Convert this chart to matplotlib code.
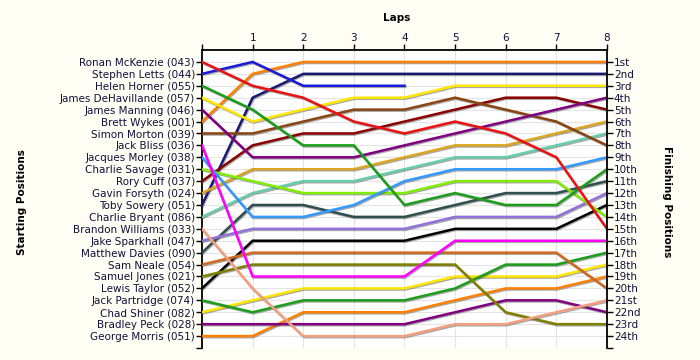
import numpy as np
import matplotlib
matplotlib.use("Agg")
from matplotlib import pyplot as plt
import matplotlib.patheffects as pe

# drivers in starting order
drivers = ["Ronan McKenzie (043)", "Stephen Letts (044)", "Helen Horner (055)",
           "James DeHavillande (057)", "James Manning (046)", "Brett Wykes (001)",
           "Simon Morton (039)", "Jack Bliss (036)", "Jacques Morley (038)",
           "Charlie Savage (031)", "Rory Cuff (037)", "Gavin Forsyth (024)",
           "Toby Sowery (051)", "Charlie Bryant (086)", "Brandon Williams (033)",
           "Jake Sparkhall (047)", "Matthew Davies (090)", "Sam Neale (054)",
           "Samuel Jones (021)", "Lewis Taylor (052)", "Jack Partridge (074)",
           "Chad Shiner (082)", "Bradley Peck (028)", "George Morris (051)"]

colors = ["#ee1111", "#1a1ad8", "#1a9e1a", "#ffe600", "#800080", "#ff8000",
          "#8b4513", "#ff00ff", "#3399ff", "#80ee00", "#8b0000", "#daa520",
          "#191970", "#66cdaa", "#f4a080", "#9370db", "#2f4f4f", "#d2691e",
          "#808000", "#000000", "#1a9e1a", "#ffe600", "#800080", "#ff8000"]

laps = [0, 1, 2, 3, 4, 5, 6, 7, 8]

# position after each lap (lap 0 = grid), None = retired
positions = [
    [1, 3, 4, 6, 7, 6, 7, 9, 15],
    [2, 1, 3, 3, 3, None, None, None, None],
    [3, 5, 8, 8, 13, 12, 13, 13, 10],
    [4, 6, 5, 4, 4, 3, 3, 3, 3],
    [5, 9, 9, 9, 8, 7, 6, 5, 4],
    [6, 2, 1, 1, 1, 1, 1, 1, 1],
    [7, 7, 6, 5, 5, 4, 5, 6, 8],
    [8, 19, 19, 19, 19, 16, 16, 16, 16],
    [9, 14, 14, 13, 11, 10, 10, 10, 9],
    [10, 11, 12, 12, 12, 11, 11, 11, 14],
    [11, 8, 7, 7, 6, 5, 4, 4, 5],
    [12, 10, 10, 10, 9, 8, 8, 7, 6],
    [13, 4, 2, 2, 2, 2, 2, 2, 2],
    [14, 12, 11, 11, 10, 9, 9, 8, 7],
    [15, 20, 24, 24, 24, 23, 23, 22, 21],
    [16, 15, 15, 15, 15, 14, 14, 14, 12],
    [17, 13, 13, 14, 14, 13, 12, 12, 11],
    [18, 17, 17, 17, 17, 17, 17, 17, 20],
    [19, 18, 18, 18, 18, 18, 22, 23, 23],
    [20, 16, 16, 16, 16, 15, 15, 15, 13],
    [21, 22, 21, 21, 21, 20, 18, 18, 17],
    [22, 21, 20, 20, 20, 19, 19, 19, 18],
    [23, 23, 23, 23, 23, 22, 21, 21, 22],
    [24, 24, 22, 22, 22, 21, 20, 20, 19],
]

finish_labels = ["1st", "2nd", "3rd", "4th", "5th", "6th", "7th", "8th", "9th",
                 "10th", "11th", "12th", "13th", "14th", "15th", "16th", "17th",
                 "18th", "19th", "20th", "21st", "22nd", "23rd", "24th"]

txt = "#10103a"
fig = plt.figure(figsize=(7, 3.6), dpi=100)
fig.patch.set_facecolor("#fffef4")
ax = fig.add_axes([0.2886, 0.0333, 0.5785, 0.8278])
ax.set_facecolor("white")

shadow = [pe.SimpleLineShadow(offset=(0.6, -0.8), shadow_color="#555555", alpha=0.5),
          pe.Normal()]
for i in range(len(drivers) - 1, -1, -1):
    y = np.array([np.nan if p is None else p for p in positions[i]], dtype=float)
    ax.plot(laps, y, color=colors[i], lw=1.8, solid_joinstyle="miter",
            path_effects=shadow, zorder=3)

ax.set_xlim(0, 8)
ax.set_ylim(25, 0)
ax.set_xticks(laps)
ax.set_xticklabels([""] + [str(l) for l in laps[1:]])
ax.xaxis.tick_top()
ax.set_yticks(range(1, 26))
ax.set_yticklabels(drivers + [""])
ax.grid(True, color="#e4e4e4", lw=0.8, zorder=0)
for s in ["bottom", "right"]:
    ax.spines[s].set_visible(False)
for s in ["top", "left"]:
    ax.spines[s].set_linewidth(1.3)
ax.tick_params(axis="both", direction="out", length=4, width=1, labelsize=7.5,
               colors="black", labelcolor=txt, pad=1)

ax2 = ax.twinx()
ax2.set_ylim(25, 0)
ax2.set_yticks(range(1, 26))
ax2.set_yticklabels(finish_labels + [""])
for s in ["bottom", "left", "top"]:
    ax2.spines[s].set_visible(False)
ax2.spines["right"].set_linewidth(1.3)
ax2.tick_params(axis="y", direction="out", length=4, width=1, labelsize=7.5,
                labelcolor=txt, pad=1)

fig.text(0.567, 0.95, "Laps", ha="center", va="center", fontsize=7.5,
         fontweight="bold")
fig.text(0.032, 0.44, "Starting Positions", ha="center", va="center",
         rotation=90, fontsize=7.5, fontweight="bold")
fig.text(0.953, 0.44, "Finishing Positions", ha="center", va="center",
         rotation=-90, fontsize=7.5, fontweight="bold")

fig.savefig("out.png", dpi=100, facecolor=fig.get_facecolor())
